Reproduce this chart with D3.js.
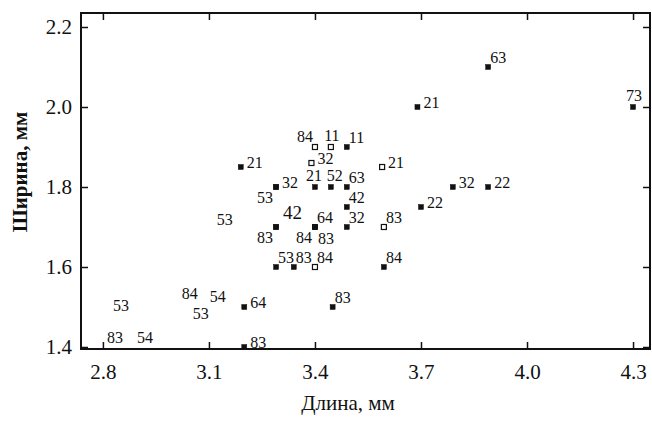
<!DOCTYPE html>
<html>
<head>
<meta charset="utf-8">
<script src="https://cdn.jsdelivr.net/npm/d3@7"></script>
<style>
  body { margin: 0; background: #fff; }
  text { font-family: "Liberation Serif", "DejaVu Serif", serif; fill: #111; }
</style>
</head>
<body>
<div id="chart"></div>
<script>
// measurements: length (x), width (y), marker kind, label, label placement
const lengths = [3.89, 4.30, 3.69, 3.19, 3.40, 3.445, 3.49, 3.39, 3.59, 3.29, 3.29, 3.40, 3.445, 3.49,
    3.79, 3.89, 3.49, 3.49, 3.70, 3.595, 3.595, 3.29, 3.29, 3.40, 3.40, 3.40, 3.29, 3.34, 3.40,
    3.20, 3.45, 3.20,
    3.145, 2.851, 3.046, 3.125, 3.077, 2.834, 2.919];
const widths = [2.10, 2.00, 2.00, 1.85, 1.90, 1.90, 1.90, 1.86, 1.85, 1.80, 1.80, 1.80, 1.80, 1.80,
    1.80, 1.80, 1.75, 1.70, 1.75, 1.70, 1.60, 1.70, 1.70, 1.70, 1.70, 1.70, 1.60, 1.60, 1.60,
    1.50, 1.50, 1.40,
    1.72, 1.505, 1.535, 1.528, 1.485, 1.425, 1.425];
const kinds = ["f", "f", "f", "f", "o", "o", "f", "o", "o", "f", "f", "f", "f", "f",
    "f", "f", "f", "f", "f", "o", "f", "f", "f", "f", "f", "f", "f", "f", "o",
    "f", "f", "f",
    "none", "none", "none", "none", "none", "none", "none"];
const labels = ["63", "73", "21", "21", "84", "11", "11", "32", "21", "32", "53", "21", "52", "63",
    "32", "22", "42", "32", "22", "83", "84", "83", "42", "64", "84", "83", "53", "83", "84",
    "64", "83", "83",
    "53", "53", "84", "54", "53", "83", "54"];
const places = ["ur", "u", "r", "r", "ul", "u", "ur", "r", "r", "r", "dl", "ul2", "u2", "ur",
    "r", "r", "ur", "ur", "r", "ur", "ur", "dl", "ur2", "ur", "dl", "dr", "ur", "ur", "ur",
    "r", "ur", "r",
    "c", "c", "c", "c", "c", "c", "c"];

const xTicks = [2.8, 3.1, 3.4, 3.7, 4.0, 4.3];
const yTicks = [1.4, 1.6, 1.8, 2.0, 2.2];

const data = lengths.map((d, i) => ({
    x: d, y: widths[i], kind: kinds[i], label: labels[i], place: places[i]
}));

const width = 652, height = 422;
const frame = { left: 81, right: 650, top: 13, bottom: 349 };

const svg = d3.select("#chart").append("svg")
    .attr("width", width)
    .attr("height", height);

const xScale = d3.scaleLinear().domain([2.738, 4.348]).range([frame.left, frame.right]);
const yScale = d3.scaleLinear().domain([1.395, 2.235]).range([frame.bottom, frame.top]);

// axes with inward ticks
const xAxis = d3.axisBottom(xScale).tickValues(xTicks).tickFormat(d3.format(".1f"))
    .tickSizeInner(-7).tickSizeOuter(0).tickPadding(15);
const yAxis = d3.axisLeft(yScale).tickValues(yTicks).tickFormat(d3.format(".1f"))
    .tickSizeInner(-7).tickSizeOuter(0).tickPadding(9);

const gx = svg.append("g").attr("transform", `translate(0,${frame.bottom})`).call(xAxis);
const gy = svg.append("g").attr("transform", `translate(${frame.left},0)`).call(yAxis);
const gt = svg.append("g").attr("transform", `translate(0,${frame.top})`)
    .call(d3.axisTop(xScale).tickValues(xTicks).tickFormat("").tickSizeInner(-7).tickSizeOuter(0));
const gr = svg.append("g").attr("transform", `translate(${frame.right},0)`)
    .call(d3.axisRight(yScale).tickValues(yTicks).tickFormat("").tickSizeInner(-7).tickSizeOuter(0));

[gx, gy, gt, gr].forEach(g => {
    g.select(".domain").remove();
    g.selectAll("line").attr("stroke", "#111").attr("stroke-width", 1.5);
    g.selectAll("text").attr("font-size", 21).attr("fill", "#111")
        .attr("font-family", "Liberation Serif, serif");
});

svg.append("rect")
    .attr("x", frame.left).attr("y", frame.top)
    .attr("width", frame.right - frame.left).attr("height", frame.bottom - frame.top)
    .attr("fill", "none").attr("stroke", "#111").attr("stroke-width", 2);

// axis titles
svg.append("text")
    .attr("x", 348).attr("y", 410)
    .attr("text-anchor", "middle")
    .attr("font-size", 21)
    .text("Длина, мм");

svg.append("text")
    .attr("transform", "translate(27,172) rotate(-90)")
    .attr("text-anchor", "middle")
    .attr("font-size", 21)
    .attr("font-weight", "bold")
    .text("Ширина, мм");

// markers
const ms = 5;
svg.append("g").selectAll("rect")
    .data(data.filter(d => d.kind !== "none"))
    .enter()
    .append("rect")
    .attr("x", d => xScale(d.x) - ms / 2)
    .attr("y", d => yScale(d.y) - ms / 2)
    .attr("width", ms)
    .attr("height", ms)
    .attr("fill", d => d.kind === "f" ? "#111" : "#fff")
    .attr("stroke", "#111")
    .attr("stroke-width", d => d.kind === "f" ? 0.5 : 1.2);

// label placement offsets
const offsets = {
    r:   { dx: 6,  dy: 1,  anchor: "start" },
    ur:  { dx: 2,  dy: -4, anchor: "start" },
    ur2: { dx: 7,  dy: -8, anchor: "start" },
    u:   { dx: 1,  dy: -6, anchor: "middle" },
    u2:  { dx: 4,  dy: -6, anchor: "middle" },
    ul:  { dx: -2, dy: -5, anchor: "end" },
    ul2: { dx: -1, dy: -6, anchor: "middle" },
    dl:  { dx: -3, dy: 16, anchor: "end" },
    dr:  { dx: 3,  dy: 17, anchor: "start" },
    c:   { dx: 0,  dy: 6,  anchor: "middle" }
};

svg.append("g").selectAll("text")
    .data(data)
    .enter()
    .append("text")
    .attr("x", d => xScale(d.x) + offsets[d.place].dx)
    .attr("y", d => yScale(d.y) + offsets[d.place].dy)
    .attr("text-anchor", d => offsets[d.place].anchor)
    .attr("font-size", d => d.place === "ur2" ? 19 : 16)
    .text(d => d.label);
</script>
</body>
</html>
